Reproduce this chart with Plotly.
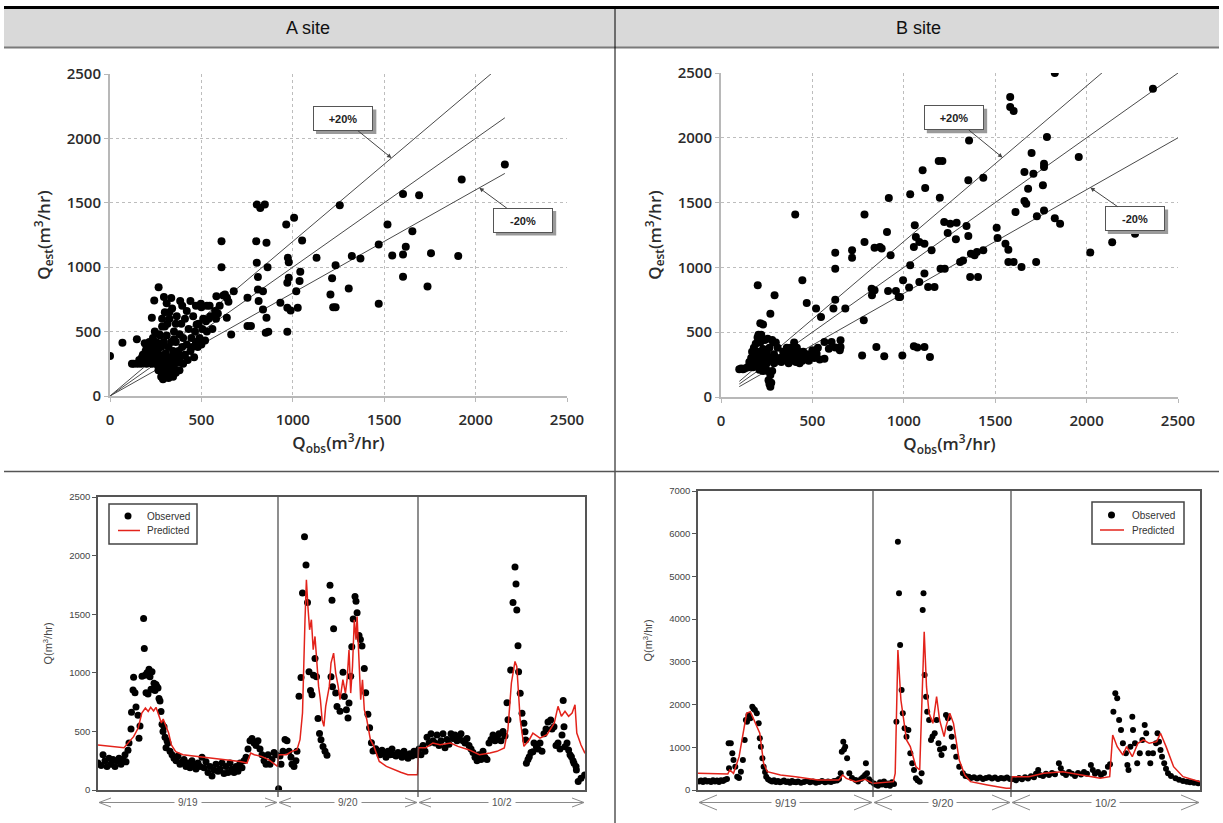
import plotly.graph_objects as go

# ---------------- DATA ----------------
headers = ["A site", "B site"]
day_labels = ["9/19", "9/20", "10/2"]
legend_labels = ["Observed", "Predicted"]

# scatter: (Q_obs, Q_est)
a_scatter = [
    (0, 310), (68, 414), (147, 440), (242, 742), (266, 845), (295, 768), (229, 607), (384, 737), (440, 737),
    (497, 716), (474, 556), (610, 1202), (610, 1000), (582, 775), (629, 788), (677, 814), (648, 731), (639, 607),
    (663, 478), (752, 762), (752, 543), (771, 543), (803, 1486), (822, 1460), (847, 1486), (800, 1202),
    (856, 1189), (803, 1034), (862, 1000), (809, 923), (809, 827), (837, 814), (813, 737), (837, 672), (856, 607),
    (866, 499), (852, 491), (932, 724), (964, 1331), (1007, 1383), (973, 1073), (978, 1039), (1051, 1207),
    (1041, 964), (970, 879), (978, 918), (1019, 814), (1037, 892), (970, 685), (1027, 685), (970, 499),
    (988, 664), (1130, 1073), (1206, 788), (1215, 915), (1221, 690), (1234, 690), (1234, 1016), (1257, 1481),
    (1306, 835), (1323, 1086), (1370, 1068), (1470, 716), (1470, 1176), (1518, 1331), (1544, 1091),
    (1603, 1569), (1603, 1099), (1603, 925), (1618, 1158), (1654, 1280), (1691, 1559), (1737, 850),
    (1756, 1109), (1905, 1086), (1924, 1680), (2160, 1797),
    (120, 250), (130, 250), (150, 250), (160, 280), (170, 250), (175, 300), (180, 320), (190, 280), (195, 350),
    (200, 250), (200, 380), (210, 300), (215, 260), (220, 330), (225, 400), (230, 250), (235, 290), (240, 350),
    (245, 270), (250, 420), (255, 300), (260, 240), (260, 360), (265, 200), (270, 320), (270, 480), (275, 260),
    (280, 150), (280, 380), (285, 220), (285, 540), (290, 300), (290, 130), (295, 180), (295, 420), (300, 250),
    (300, 650), (305, 330), (305, 160), (310, 200), (310, 470), (315, 280), (315, 560), (320, 140), (320, 380),
    (325, 230), (325, 600), (330, 300), (330, 180), (335, 420), (340, 260), (340, 680), (345, 150), (345, 350),
    (350, 220), (350, 500), (355, 300), (360, 180), (360, 420), (365, 620), (370, 260), (375, 350), (380, 200),
    (380, 480), (385, 300), (390, 560), (395, 380), (400, 250), (400, 450), (410, 320), (410, 600), (420, 400),
    (425, 280), (430, 520), (440, 350), (445, 450), (450, 380), (455, 620), (460, 300), (465, 500), (470, 420),
    (480, 380), (485, 560), (490, 450), (500, 400), (505, 520), (510, 600), (520, 430), (525, 580), (530, 500),
    (540, 600), (550, 620), (560, 520), (575, 660), (580, 600), (590, 640), (600, 700), (620, 780), (640, 760),
    (530, 700), (545, 700), (470, 700), (500, 690), (285, 600), (235, 450), (245, 500), (310, 720), (325, 650),
    (265, 410), (360, 560), (395, 700), (420, 660), (300, 540), (275, 470), (335, 760), (350, 440), (255, 370),
    (215, 420), (205, 330), (190, 410), (230, 380),
]

b_scatter = [
    (1826, 2500), (2363, 2379), (1582, 2315), (1582, 2238), (1601, 2207), (1357, 1980), (1783, 2006),
    (1957, 1852), (1699, 1883), (1767, 1800), (1767, 1775), (1191, 1821), (1211, 1821), (1103, 1749),
    (1660, 1736), (1709, 1723), (1353, 1672), (1435, 1692), (1117, 1613), (1761, 1633), (1680, 1607),
    (918, 1535), (1035, 1564), (1197, 1538), (406, 1409), (1660, 1512), (1670, 1492), (1611, 1427),
    (1767, 1440), (1728, 1394), (785, 1409), (1826, 1379), (1855, 1337), (1508, 1306), (1060, 1325),
    (1221, 1350), (1254, 1337), (1289, 1345), (1343, 1319), (908, 1273), (1240, 1265), (785, 1196),
    (1066, 1234), (1085, 1196), (1113, 1183), (1513, 1227), (1285, 1217), (1353, 1242), (869, 1157),
    (879, 1145), (1572, 1137), (1556, 1183), (1055, 1157), (1152, 1132), (840, 1152), (928, 1093),
    (625, 1114), (717, 1132), (717, 1075), (625, 990), (1035, 1016), (1572, 1042), (1601, 1042), (1724, 1042),
    (1644, 1003), (1308, 1042), (1324, 1054), (1367, 1106), (1387, 1093), (1400, 1119), (1435, 1132),
    (1201, 990), (1224, 990), (1363, 926), (1406, 926), (1113, 952), (996, 900), (1029, 844), (1085, 887),
    (1133, 849), (1168, 849), (914, 818), (957, 818), (980, 772), (972, 772), (824, 836), (840, 823),
    (826, 785), (781, 592), (680, 682), (615, 682), (469, 725), (520, 682), (547, 617), (445, 900), (293, 785),
    (201, 862), (270, 643), (625, 751), (654, 437), (850, 386), (772, 321), (893, 314), (992, 321), (1055, 391),
    (1074, 381), (1113, 386), (1143, 309), (566, 424), (605, 424), (590, 373), (625, 381), (566, 296),
    (654, 386), (650, 360), (523, 334), (371, 334), (2020, 1115), (2140, 1195), (2265, 1260),
    (100, 215), (110, 220), (120, 215), (130, 220), (150, 230), (160, 260), (165, 300), (170, 350), (175, 280),
    (180, 380), (185, 320), (190, 410), (195, 300), (200, 460), (200, 250), (205, 350), (210, 280), (215, 420),
    (220, 330), (220, 480), (225, 260), (230, 370), (235, 300), (240, 440), (245, 220), (250, 340), (255, 200),
    (255, 450), (260, 130), (260, 280), (265, 100), (265, 380), (270, 80), (270, 170), (275, 110), (275, 300),
    (280, 200), (285, 420), (290, 330), (300, 280), (310, 380), (320, 300), (330, 270), (340, 350), (350, 300),
    (360, 380), (365, 320), (370, 260), (375, 330), (380, 380), (385, 280), (390, 350), (395, 300), (400, 420),
    (405, 330), (410, 270), (415, 380), (420, 300), (425, 350), (430, 260), (440, 310), (445, 280), (450, 350),
    (460, 300), (470, 330), (480, 280), (490, 320), (500, 360), (510, 300), (520, 340), (530, 380), (540, 290),
    (300, 420), (250, 260), (230, 200), (210, 210), (240, 300), (225, 330), (290, 260), (190, 250), (175, 230),
    (155, 270), (145, 230), (205, 480), (215, 570), (230, 560), (250, 350), (280, 440),
]

ratio_lines = [1.0, 1.2, 0.8]          # 1:1, +20 %, -20 %
a_line_span = [0, 2160]
b_line_span = [100, 2500]

# time series: sample index (each day a block of samples)
a_day_bounds = [0, 180, 320, 487]
b_day_bounds = [0, 175, 313, 502]

a_obs = [
    (0, 230), (3, 210), (5, 300), (7, 250), (9, 200), (11, 270), (13, 220), (15, 260), (17, 200), (19, 250),
    (21, 270), (23, 220), (25, 260), (27, 300), (28, 240), (30, 340), (31, 400), (33, 520), (33.5, 663),
    (35, 853), (35.6, 961), (37, 830), (38, 708), (40, 637), (41, 441), (42, 546), (44, 970), (45.6, 1464),
    (46.3, 1208), (47, 980), (48, 830), (49, 1000), (50, 820), (51, 1030), (52, 966), (53, 860), (54, 1010),
    (55, 860), (56, 910), (57, 850), (58, 900), (59, 880), (60, 870), (61, 780), (62, 760), (63, 670),
    (64, 560), (65, 500), (66, 540), (67, 450), (68, 360), (69, 420), (70, 400), (72, 330), (74, 300),
    (76, 270), (78, 250), (80, 290), (82, 220), (84, 240), (86, 260), (88, 200), (90, 230), (92, 190),
    (94, 250), (96, 210), (98, 180), (100, 230), (102, 200), (104, 280), (106, 190), (108, 240), (110, 150),
    (112, 200), (114, 120), (116, 170), (118, 220), (120, 160), (122, 180), (124, 230), (126, 140), (128, 200),
    (130, 150), (132, 230), (134, 180), (136, 150), (138, 200), (140, 160), (142, 230), (144, 190), (146, 250),
    (148, 280), (150, 350), (152, 420), (154, 440), (156, 400), (158, 380), (160, 420), (162, 350), (164, 300),
    (166, 250), (168, 220), (170, 300), (172, 220), (174, 260), (176, 320), (178, 300),
    (180.6, 10), (182, 290), (183, 220), (185, 330), (187, 430), (189, 420), (191, 330), (193, 280), (194, 220),
    (196, 200), (198, 250), (199, 330), (201, 800), (203, 960), (204.5, 1680), (206.5, 2160), (208, 1920),
    (209.5, 1600), (211, 1009), (212.5, 850), (214, 813), (215.5, 980), (217, 1123), (218.5, 966), (220, 611),
    (221.5, 483), (223, 429), (225, 372), (227, 330), (229, 296), (232, 1746), (234, 1618), (235.6, 1376),
    (233, 966), (234.5, 880), (237.7, 827), (239, 713), (242, 671), (245, 1004), (246.3, 798), (248.4, 685),
    (250, 614), (251, 742), (252.7, 971), (253.8, 1222), (255.2, 1458), (257, 1650), (258, 1611),
    (259.1, 1512), (261, 1319), (262.4, 1285), (264, 1228), (266.3, 1037), (267.7, 830), (269.9, 646),
    (271.6, 532), (273.4, 404), (275, 333), (277.7, 353), (280, 330), (282, 300), (284, 340), (286, 310),
    (288, 280), (290, 330), (292, 300), (294, 350), (296, 300), (298, 290), (300, 320), (302, 310), (304, 280),
    (306, 330), (308, 300), (310, 270), (312, 310), (314, 290), (316, 330), (318, 300),
    (321, 350), (323, 300), (325, 380), (327, 330), (329, 450), (331, 400), (333, 480), (335, 420), (337, 400),
    (339, 470), (341, 380), (343, 420), (345, 480), (347, 360), (349, 430), (351, 390), (353, 480), (355, 440),
    (357, 470), (359, 420), (361, 450), (363, 480), (365, 420), (367, 400), (369, 440), (371, 380), (373, 350),
    (375, 320), (377, 280), (379, 250), (381, 300), (383, 260), (385, 330), (387, 280), (389, 260), (391, 400),
    (393, 430), (395, 470), (397, 420), (399, 450), (401, 480), (403, 420), (405, 500), (407, 460), (409, 745),
    (410, 600), (412.7, 1023), (415, 1600), (417, 1902), (418, 1757), (418.8, 1535), (420, 1231),
    (420.6, 1009), (422.2, 825), (424, 654), (425.9, 569), (427, 498), (427.7, 427), (428.4, 228), (430, 260),
    (431.3, 284), (433, 320), (434.9, 327), (436, 400), (438.4, 370), (440, 350), (442, 400), (444, 330),
    (446, 480), (448, 520), (450, 580), (452.7, 597), (454, 520), (456, 540), (458, 380), (460, 400),
    (462, 350), (464, 470), (465.2, 764), (466, 540), (467, 370), (469, 400), (470.6, 341), (472, 300),
    (473.4, 284), (475, 250), (476, 228), (478, 200), (478.4, 171), (480.2, 72), (483, 100), (486.6, 128),
]

a_pred = [
    (0, 384), (26, 361), (35.6, 455), (40.2, 529), (43.8, 657), (47.4, 700), (50.2, 671), (52.7, 705),
    (55.6, 674), (58, 705), (60.6, 643), (63.4, 572), (65.2, 606), (68.8, 529), (70.6, 486), (73.4, 384),
    (77.7, 327), (84.9, 301), (99, 287), (113.4, 273), (127.7, 259), (142, 244), (149, 230), (152.7, 316),
    (156.3, 301), (163.4, 287), (170.6, 259), (179.5, 202),
    (180.6, 301), (188.4, 301), (193.8, 330), (199, 344), (202, 429), (204.5, 657), (207, 1453), (208.4, 1794),
    (209.9, 1566), (211.6, 1367), (213.4, 1453), (215.2, 1197), (217, 1310), (218.8, 1054), (220.6, 884),
    (222.4, 770), (224.1, 600), (225.9, 543), (227.7, 714), (231.3, 884), (233, 1083), (235.6, 1168),
    (237.7, 998), (240.2, 884), (242, 770), (244.9, 941), (247.4, 827), (249.1, 941), (251, 1197),
    (252.7, 827), (254.5, 1054), (256.3, 1453), (258, 1282), (259.1, 1481), (261, 1111), (262.7, 770),
    (264.5, 941), (266.3, 685), (268.8, 600), (272.4, 429), (275.9, 372), (281.3, 244), (288.4, 202),
    (295.6, 173), (302.7, 151), (309.9, 131), (319.5, 131),
    (320.6, 360), (327.7, 360), (334.9, 401), (342, 386), (352.7, 401), (359.9, 372), (370.6, 344),
    (381.4, 301), (392, 316), (399, 330), (406.3, 358), (409.9, 515), (413.4, 913), (417, 1097),
    (418.8, 1054), (422.2, 600), (425.9, 372), (431.3, 429), (434.9, 486), (442, 443), (449, 472),
    (456.3, 572), (460, 714), (463.4, 629), (467, 671), (470.6, 629), (474.1, 657), (477, 728), (478.8, 486),
    (483, 384), (487, 313),
]

b_obs = [
    (1, 200), (3, 220), (5, 190), (7, 230), (9, 200), (11, 210), (13, 190), (15, 230), (17, 200), (19, 220),
    (21, 190), (23, 230), (25, 210), (27, 240), (29, 260), (30.6, 1093), (31, 507), (32.8, 1093), (34.3, 858),
    (35.5, 702), (37.3, 546), (39.2, 312), (41, 280), (42.9, 429), (44.9, 702), (46.7, 1171), (47.9, 1639),
    (49, 1600), (50.5, 1756), (52.4, 1678), (54.3, 1951), (55.5, 1900), (56.9, 1873), (58.8, 1795),
    (60.7, 1561), (61.8, 1210), (62.9, 1015), (64.4, 741), (65.6, 546), (67, 420), (68.2, 312), (70, 250),
    (72, 220), (74, 200), (76, 230), (78, 190), (80, 210), (82, 180), (84, 200), (86, 220), (88, 190),
    (90, 200), (92, 170), (94, 210), (96, 190), (98, 180), (100, 200), (103, 170), (106, 190), (109, 210),
    (112, 180), (115, 200), (118, 170), (121, 190), (124, 210), (127, 180), (130, 200), (133, 190), (136, 210),
    (139, 220), (141, 260), (142.7, 390), (143.8, 897), (145.3, 1132), (146, 950), (147.2, 1015),
    (149.1, 741), (151.3, 390), (154, 280), (157.7, 234), (160, 200), (163, 260), (165, 300), (167.1, 351),
    (167.9, 624), (169, 390), (171, 250), (173, 200),
    (176, 150), (178, 120), (180, 100), (182, 180), (184, 130), (186, 200), (188, 110), (190, 150), (192, 100),
    (194, 180), (196, 140), (198.4, 1600), (199.9, 5814), (201, 4604), (202.1, 3394), (203.6, 2341),
    (204.8, 1795), (206.6, 1444), (208.5, 1249), (210.4, 1405), (212.3, 858), (214.2, 624), (216, 468),
    (217.9, 273), (219.5, 230), (221.7, 195), (223.6, 390), (224.7, 4214), (225.5, 4604), (226.6, 2692),
    (228.1, 2185), (229.2, 1834), (231.1, 1639), (233, 1171), (234.5, 1250), (236.7, 1327), (238.6, 1639),
    (240.5, 1093), (242, 950), (243.5, 819), (246.1, 975), (248, 1756), (249.9, 1678), (251.8, 1444),
    (253.7, 1249), (255.5, 1015), (258.2, 780), (261.2, 546), (264.9, 390), (267.5, 330), (270.6, 312),
    (273, 280), (276, 300), (279, 270), (282, 290), (285, 260), (288, 280), (291, 300), (294, 270), (297, 290),
    (300, 260), (303, 280), (306, 270), (309, 290), (312, 260),
    (315, 260), (318, 230), (321, 280), (324, 250), (327, 300), (330, 270), (333, 320), (336, 300), (338, 380),
    (340.2, 468), (342, 350), (345, 330), (348, 380), (351, 350), (354, 400), (357, 370), (360.9, 624),
    (362.8, 507), (365, 400), (368, 350), (371, 420), (374, 380), (377, 330), (380, 400), (383, 360),
    (386, 420), (389, 380), (392.9, 585), (394.8, 468), (397, 380), (400, 420), (403, 350), (406, 400),
    (409.9, 546), (412, 600), (415.4, 1834), (417.3, 2263), (419.2, 2146), (421.1, 1639), (423, 1405),
    (424.9, 1093), (427.9, 858), (429.4, 585), (430.5, 468), (432.4, 1015), (434.3, 1717), (435, 1405),
    (437, 1093), (439.2, 624), (441.8, 858), (444.4, 1171), (446.7, 1522), (448.2, 1327), (450.4, 858),
    (452.3, 624), (455, 858), (458, 1093), (459.5, 1327), (461, 1132), (462.5, 936), (464, 780), (466.2, 624),
    (468, 500), (470, 390), (473, 330), (477.5, 273), (481, 240), (485, 210), (488.8, 195), (492, 180),
    (496, 170), (500, 156),
]

b_pred = [
    (0, 390), (29.8, 375), (31.7, 468), (35.5, 390), (41.1, 780), (44.9, 1327), (48.6, 1795), (52.4, 1834),
    (56.2, 1639), (61.8, 1327), (65.6, 624), (69.3, 429), (82.5, 351), (97.5, 312), (120, 234), (140.8, 234),
    (144.6, 351), (148.3, 273), (157.7, 195), (167.1, 250), (174.7, 156),
    (176.5, 156), (195.4, 195), (197.2, 390), (199.9, 3277), (202.9, 2107), (204.8, 1795), (208.5, 1171),
    (212.3, 1015), (217.9, 546), (221.7, 468), (223.6, 1795), (226.2, 3706), (228.5, 2419), (231.1, 1795),
    (234.9, 1561), (238.6, 2185), (241.6, 1639), (246.1, 1249), (248, 1483), (251.8, 1795), (255.5, 1561),
    (261.2, 702), (266.8, 351), (272.5, 195), (289.4, 117), (308.2, 39), (312.7, 39),
    (313.9, 312), (330.8, 312), (345.8, 390), (364.7, 429), (383.5, 351), (402.3, 273), (411.7, 312),
    (414.7, 1288), (419.2, 1015), (424.9, 819), (428.6, 1015), (434.3, 780), (439.9, 1093), (445.5, 1171),
    (451.2, 1093), (458.7, 1132), (462.5, 1327), (468.1, 1015), (475.6, 546), (485, 312), (502, 195),
]

# ---------------- LAYOUT HELPERS (pixel -> paper) ----------------
W, H = 1223, 823
def fx(p): return p / W
def fy(p): return 1 - p / H

RED = "#e3231b"
fig = go.Figure()

def unz(pairs):
    return [p[0] for p in pairs], [p[1] for p in pairs]

# --- top scatter panels ---
for sc, span, xa, ya in [(a_scatter, a_line_span, "x", "y"), (b_scatter, b_line_span, "x2", "y2")]:
    for r in ratio_lines:
        fig.add_trace(go.Scatter(x=span, y=[span[0] * r, span[1] * r], mode="lines",
                                 line=dict(color="#4a4a4a", width=1), xaxis=xa, yaxis=ya,
                                 showlegend=False, hoverinfo="skip"))
    xs, ys = unz(sc)
    fig.add_trace(go.Scatter(x=xs, y=ys, mode="markers", marker=dict(color="black", size=8),
                             xaxis=xa, yaxis=ya, showlegend=False))

# --- bottom time series panels ---
for obs, pred, xa, ya, msize in [(a_obs, a_pred, "x3", "y3", 7), (b_obs, b_pred, "x4", "y4", 6)]:
    xs, ys = unz(obs)
    fig.add_trace(go.Scatter(x=xs, y=ys, mode="markers", name=legend_labels[0],
                             marker=dict(color="black", size=msize), xaxis=xa, yaxis=ya, showlegend=False))
    xs, ys = unz(pred)
    fig.add_trace(go.Scatter(x=xs, y=ys, mode="lines", name=legend_labels[1],
                             line=dict(color=RED, width=1.5), xaxis=xa, yaxis=ya, showlegend=False))

tick_font_top = dict(family="Open Sans", size=15, color="#2b2b2b", weight=600)
title_font_top = dict(family="Open Sans", size=17, color="#2b2b2b", weight=600)

def top_x(domain, anchor):
    return dict(domain=domain, anchor=anchor, range=[0, 2500], dtick=500, tick0=0, automargin=False,
                showgrid=True, gridcolor="#bdbdbd", griddash="dot", gridwidth=1, zeroline=False,
                showline=True, linecolor="#b8b8b8", linewidth=2, ticks="outside", ticklen=4,
                tickcolor="#b8b8b8", tickfont=tick_font_top, ticklabelstandoff=5,
                title=dict(text="Q<sub>obs</sub>(m<sup>3</sup>/hr)", font=title_font_top, standoff=6))

def top_y(domain, anchor):
    return dict(domain=domain, anchor=anchor, range=[0, 2500], dtick=500, tick0=0, automargin=False,
                showgrid=True, gridcolor="#bdbdbd", griddash="dot", gridwidth=1, zeroline=False,
                showline=True, linecolor="#b8b8b8", linewidth=2, ticks="outside", ticklen=4,
                tickcolor="#b8b8b8", tickfont=tick_font_top,
                title=dict(text="Q<sub>est</sub>(m<sup>3</sup>/hr)", font=title_font_top, standoff=12))

def bot_x(domain, anchor, rng):
    return dict(domain=domain, anchor=anchor, range=rng, showgrid=False, zeroline=False, automargin=False,
                showline=True, mirror=True, linecolor="#555555", linewidth=1.5,
                showticklabels=False, ticks="")

def bot_y(domain, anchor, rng, dt):
    return dict(domain=domain, anchor=anchor, range=rng, dtick=dt, showgrid=False, zeroline=False,
                automargin=False, showline=True, mirror=True, linecolor="#555555", linewidth=1.5,
                ticks="outside", ticklen=4, tickcolor="#555555",
                tickfont=dict(family="Liberation Sans", size=9.5, color="#444444"),
                title=dict(text="Q(m<sup>3</sup>/hr)", font=dict(family="Liberation Sans", size=11, color="#444444"),
                           standoff=14))

fig.update_layout(
    width=W, height=H, margin=dict(l=0, r=0, t=0, b=0, pad=0, autoexpand=False),
    paper_bgcolor="white", plot_bgcolor="white", showlegend=False,
    xaxis=top_x([fx(110), fx(567)], "y"),
    yaxis=top_y([fy(396), fy(74)], "x"),
    xaxis2=top_x([fx(721), fx(1178)], "y2"),
    yaxis2=top_y([fy(397), fy(73)], "x2"),
    xaxis3=bot_x([fx(98), fx(585)], "y3", [0, a_day_bounds[-1]]),
    yaxis3=bot_y([fy(790), fy(497)], "x3", [0, 2500], 500),
    xaxis4=bot_x([fx(698), fx(1200)], "y4", [0, b_day_bounds[-1]]),
    yaxis4=bot_y([fy(790), fy(491)], "x4", [0, 7000], 1000),
)

shapes = []
annotations = []

# ---- table frame ----
shapes.append(dict(type="rect", xref="paper", yref="paper", x0=fx(4), x1=fx(1219), y0=fy(47), y1=fy(9),
                   fillcolor="#d9d9d9", line=dict(width=0), layer="below"))
shapes.append(dict(type="line", xref="paper", yref="paper", x0=fx(4), x1=fx(1219), y0=fy(7.5), y1=fy(7.5),
                   line=dict(color="black", width=3)))
shapes.append(dict(type="line", xref="paper", yref="paper", x0=fx(4), x1=fx(1219), y0=fy(47.5), y1=fy(47.5),
                   line=dict(color="#7a7a7a", width=2)))
shapes.append(dict(type="line", xref="paper", yref="paper", x0=fx(615), x1=fx(615), y0=fy(9), y1=fy(823),
                   line=dict(color="black", width=1)))
shapes.append(dict(type="line", xref="paper", yref="paper", x0=fx(4), x1=fx(1219), y0=fy(471.5), y1=fy(471.5),
                   line=dict(color="#555555", width=1.5)))

for i, h in enumerate(headers):
    annotations.append(dict(text=h, xref="paper", yref="paper", x=fx(307.5 if i == 0 else 918), y=fy(28),
                            showarrow=False, font=dict(family="Liberation Sans", size=18, color="#111"),
                            xanchor="center", yanchor="middle"))

# ---- +/-20% callouts ----
callouts = [
    ("x", "y", "+20%", 1540, 1848, 1276, 2152),
    ("x", "y", "-20%", 2020, 1616, 2260, 1365),
    ("x2", "y2", "+20%", 1540, 1848, 1275, 2153),
    ("x2", "y2", "-20%", 2020, 1616, 2265, 1375),
]
for xr, yr, txt, tx, ty, cx, cy in callouts:
    shapes.append(dict(type="rect", xref=xr, yref=yr, x0=cx - 165 + 16, x1=cx + 165 + 16,
                       y0=cy - 95 - 23, y1=cy + 95 - 23, fillcolor="#9a9a9a", line=dict(width=0), layer="above"))
    annotations.append(dict(text="<b>%s</b>" % txt, xref=xr, yref=yr, x=tx, y=ty, axref=xr, ayref=yr,
                            ax=cx, ay=cy, showarrow=True, arrowhead=2, arrowsize=0.9, arrowwidth=1,
                            arrowcolor="#444444", bgcolor="white", bordercolor="#555555", borderwidth=1,
                            width=56, height=21, font=dict(family="Liberation Sans", size=11, color="#222")))

# ---- custom legends (pixel boxes) ----
for (bx0, bx1, by0, by1, dotx, doty, lx0, lx1, ly, tx) in [
        (109, 197, 504, 544, 128, 516, 118, 140, 530.5, 145),
        (1092, 1184, 502, 544, 1111.5, 515, 1100, 1124, 530, 1129.5)]:
    shapes.append(dict(type="rect", xref="paper", yref="paper", x0=fx(bx0), x1=fx(bx1), y0=fy(by1), y1=fy(by0),
                       fillcolor="white", line=dict(color="#444444", width=1.5), layer="above"))
    shapes.append(dict(type="circle", xref="paper", yref="paper", x0=fx(dotx - 3.5), x1=fx(dotx + 3.5),
                       y0=fy(doty + 3.5), y1=fy(doty - 3.5), fillcolor="black", line=dict(width=0), layer="above"))
    shapes.append(dict(type="line", xref="paper", yref="paper", x0=fx(lx0), x1=fx(lx1), y0=fy(ly), y1=fy(ly),
                       line=dict(color=RED, width=1.5), layer="above"))
    for lab, yy in zip(legend_labels, [doty, ly]):
        annotations.append(dict(text=lab, xref="paper", yref="paper", x=fx(tx), y=fy(yy), showarrow=False,
                                xanchor="left", yanchor="middle",
                                font=dict(family="Liberation Sans", size=10, color="#333")))

# ---- day separators and arrows in bottom panels ----
for bounds, xr, ytop, w, hh, lbl_size in [(a_day_bounds, "x3", 497, 12, 4.5, 10),
                                          (b_day_bounds, "x4", 491, 18, 7.5, 11)]:
    for b in bounds[1:-1]:
        shapes.append(dict(type="line", xref=xr, yref="paper", x0=b, x1=b, y0=fy(797), y1=fy(ytop),
                           line=dict(color="#444444", width=1.2)))
    yarr = 802.5
    for i in range(3):
        a0, a1 = bounds[i] + 1, bounds[i + 1] - 1
        shapes.append(dict(type="line", xref=xr, yref="paper", x0=a0, x1=a1, y0=fy(yarr), y1=fy(yarr),
                           line=dict(color="#8a8a8a", width=1)))
        shapes.append(dict(type="path", xref=xr, yref="paper",
                           path="M %f,%f L %f,%f L %f,%f" % (a0 + w, fy(yarr - hh), a0, fy(yarr), a0 + w, fy(yarr + hh)),
                           line=dict(color="#8a8a8a", width=1)))
        shapes.append(dict(type="path", xref=xr, yref="paper",
                           path="M %f,%f L %f,%f L %f,%f" % (a1 - w, fy(yarr - hh), a1, fy(yarr), a1 - w, fy(yarr + hh)),
                           line=dict(color="#8a8a8a", width=1)))
        annotations.append(dict(text=day_labels[i], xref=xr, yref="paper", x=(bounds[i] + bounds[i + 1]) / 2,
                                y=fy(yarr), showarrow=False, bgcolor="white", borderpad=3,
                                font=dict(family="Liberation Sans", size=lbl_size, color="#555"),
                                xanchor="center", yanchor="middle"))

fig.update_layout(shapes=shapes, annotations=annotations)
page_fix = (
    "var d=document.getElementById('{plot_id}');"
    "d.style.position='fixed';d.style.left='0px';d.style.top='0px';"
    "document.documentElement.style.margin='0';document.documentElement.style.padding='0';"
    "document.documentElement.style.overflow='hidden';"
    "document.body.style.margin='0';document.body.style.padding='0';document.body.style.overflow='hidden';"
)
fig.write_html("out.html", config={"displayModeBar": False}, post_script=page_fix)
